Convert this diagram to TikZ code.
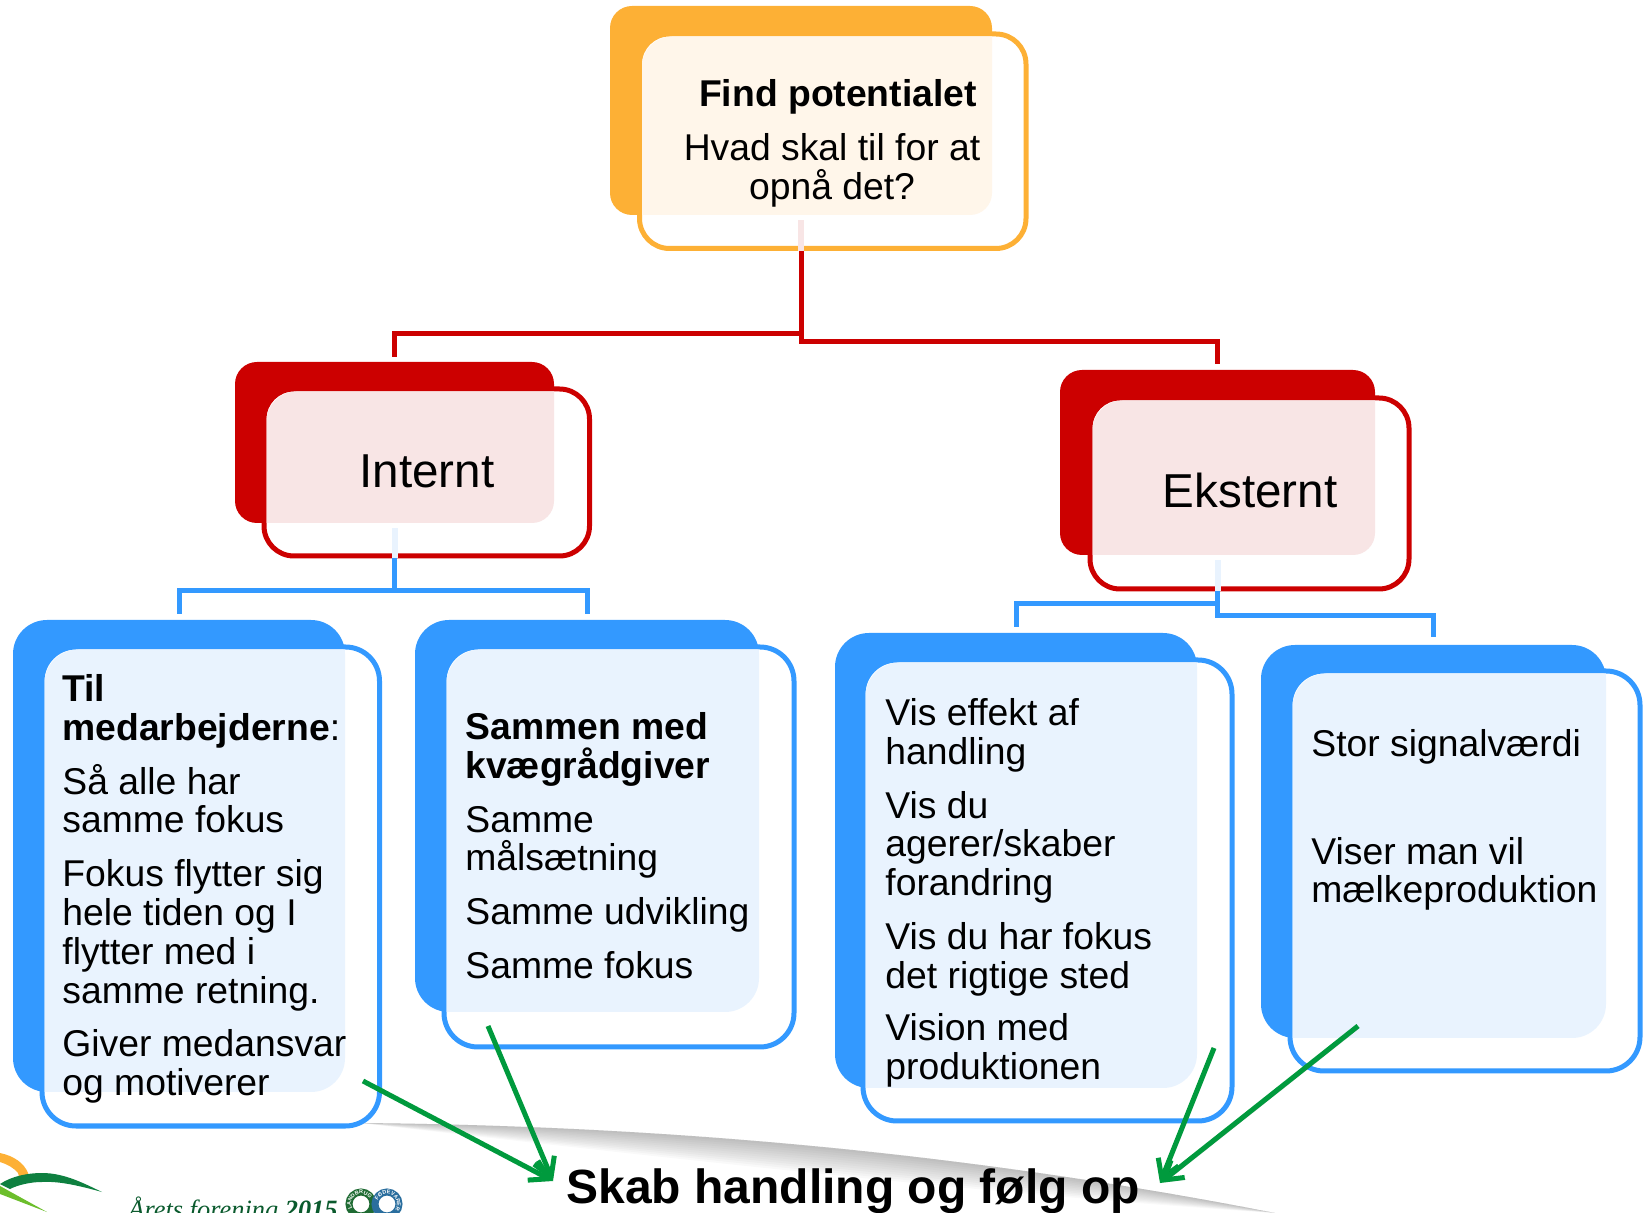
\documentclass[tikz,border=0pt]{standalone}
\usepackage{fontspec}
\setmainfont{Liberation Sans}
\newfontfamily\logofont{Liberation Serif}
\usetikzlibrary{arrows.meta,calc,decorations.text}
\definecolor{cOrange}{HTML}{FDB035}
\definecolor{cRed}{HTML}{CC0000}
\definecolor{cBlue}{HTML}{3399FF}
\definecolor{cCream}{HTML}{FFF6EA}
\definecolor{cPink}{HTML}{F8E5E5}
\definecolor{cIce}{HTML}{E9F3FE}
\definecolor{cGreen}{HTML}{009A3D}
\definecolor{cLogoG}{HTML}{0E8040}
\definecolor{cLogoL}{HTML}{6CBE2C}
\definecolor{cRingG}{HTML}{1F6B33}
\definecolor{cLogoB}{HTML}{2A6E9E}
\tikzset{
  cardback/.style={inner sep=0pt},
  cardfront/.style={inner sep=0pt,line width=2.5pt,fill=white},
  txt/.style={inner sep=0pt,align=left,anchor=north west,font=\fontsize{18.65}{19.4}\selectfont},
  ctxt/.style={inner sep=0pt,align=center,font=\fontsize{18.65}{19.4}\selectfont},
  big/.style={inner sep=0pt,font=\fontsize{23.8}{28}\selectfont},
  redline/.style={cRed,line width=2.5pt,line join=miter},
  blueline/.style={cBlue,line width=2.5pt,line join=miter},
  stub/.style={line width=3pt},
  greenarrow/.style={cGreen,line width=2.5pt,-{Straight Barb[length=9pt,width=11pt,line width=2.5pt]},
    preaction={draw=black,opacity=.18,transform canvas={shift={(.7pt,-.9pt)}}}},
  ringtext/.style={decoration={text along path,text align=center,
    text={|\fontsize{2.7}{3}\selectfont\bfseries\color{white}|#1}},decorate},
}
\newcommand{\cardB}[7]{%
  \node[cardback,rounded corners=#7,fill=#2,minimum width={(#5-#3)*0.5pt},minimum height={(#6-#4)*0.5pt}] (#1) at ({(#3+#5)/2},{(#4+#6)/2}) {};
  \def\bxa{#3}\def\bya{#4}\def\bxb{#5}\def\byb{#6}\def\brr{#7}}
\newcommand{\cardF}[8]{%
  \node[cardfront,rounded corners=#8,draw=#2,minimum width={(#6-#4)*0.5pt},minimum height={(#7-#5)*0.5pt}] (#1) at ({(#4+#6)/2},{(#5+#7)/2}) {};
  \begin{scope}
    \clip[rounded corners=\brr] (\bxa,\bya) rectangle (\bxb,\byb);
    \fill[#3,rounded corners=#8] (#4+2.5,#5+2.5) rectangle (#6-2.5,#7-2.5);
  \end{scope}}
\begin{document}
\begin{tikzpicture}[x=0.5pt,y=-0.5pt]
\useasboundingbox (0,0) rectangle (1646,1213);
% swoosh shadow
\foreach \d in {3,6,...,36}{
  \fill[black,opacity=.025] (360,1123) .. controls (700,1126) and (1000,1159) .. (1275,1213)
     -- (1275,1213) .. controls (1000,{1159+\d}) and (700,{1126+\d}) .. (360,1123) -- cycle;
}
% logo
\fill[cOrange] (0,1153) .. controls (14,1156) and (24,1163) .. (28,1173) -- (30,1180) -- (20,1180) -- (18,1173) .. controls (14,1168) and (7,1164) .. (0,1162) -- cycle;
\fill[cLogoG] (0,1184) .. controls (12,1176) and (28,1173) .. (42,1173) .. controls (65,1173) and (85,1184) .. (102,1192) .. controls (80,1186) and (60,1181) .. (42,1182) .. controls (30,1182) and (18,1185) .. (10,1189) -- cycle;
\fill[cLogoL] (0,1186) -- (47,1212) -- (0,1194) -- cycle;
\node[inner sep=0pt,anchor=base west,text=cLogoG!70!black,font=\logofont\itshape\fontsize{13.2}{15}\selectfont] (logotxt) at (128,1218) {Årets forening \textbf{2015}};
\draw[cRingG,line width=3.5pt] (361,1204) circle[radius=12];
\draw[cLogoB,line width=3.5pt] (387,1204) circle[radius=12];
\path[ringtext={LANDBRUG}] (361,1204) ++(150:10) arc[start angle=150,end angle=330,radius=10];
\path[ringtext={FØDEVARER}] (387,1204) ++(210:10) arc[start angle=210,end angle=390,radius=10];
% cards
\def\rO{11pt}\def\rF{15pt}\def\rB{17pt}
\cardB{topb}{cOrange}{610}{6}{992}{215}{\rO}
\cardF{topf}{cOrange}{cCream}{639.5}{34}{1026}{248.5}{\rF}
\cardB{intb}{cRed}{235}{362}{554}{523}{\rO}
\cardF{intf}{cRed}{cPink}{264}{389}{589.5}{556}{\rF}
\cardB{eksb}{cRed}{1060}{370}{1375}{555}{\rO}
\cardF{eksf}{cRed}{cPink}{1090}{398}{1409}{589}{\rF}
\cardB{lab}{cBlue}{13}{620}{345}{1092}{\rB}
\cardF{laf}{cBlue}{cIce}{42}{647}{379.5}{1126}{\rB}
\cardB{lbb}{cBlue}{415}{620}{759}{1012}{\rB}
\cardF{lbf}{cBlue}{cIce}{444}{647}{794}{1047}{\rB}
\cardB{rab}{cBlue}{835}{633}{1197}{1088}{\rB}
\cardF{raf}{cBlue}{cIce}{863}{660}{1232}{1121}{\rB}
\cardB{rbb}{cBlue}{1261}{645}{1606}{1038}{\rB}
\cardF{rbf}{cBlue}{cIce}{1290}{671}{1640}{1071}{\rB}
% levels
\coordinate (lvlL) at (0,333.5);
\coordinate (lvlR) at (0,341.5);
\coordinate (lvlI) at (0,591);
\coordinate (lvlEa) at (0,604);
\coordinate (lvlEb) at (0,616);
% pale stubs
\draw[cPink,stub] ($(topb.south)+(0,5)$) -- (topb.south |- topf.south);
\draw[cIce,stub] ($(intb.south)+(0,5)$) -- (intb.south |- intf.south);
\draw[cIce,stub] ($(eksb.south)+(0,5)$) -- (eksb.south |- eksf.south);
% connectors
\draw[redline,shorten >=2.5pt] (topb.south |- topf.south) -- (topb.south |- lvlL) -| (intb.north);
\draw[redline,shorten >=3pt] (topb.south |- topf.south) -- (topb.south |- lvlR) -| (eksb.north);
\draw[blueline,shorten >=3pt] (intb.south |- intf.south) -- (intb.south |- lvlI) -| (lab.north);
\draw[blueline,shorten >=3pt] (intb.south |- intf.south) -- (intb.south |- lvlI) -| (lbb.north);
\draw[blueline,shorten >=3pt] (eksb.south |- eksf.south) -- (eksb.south |- lvlEa) -| (rab.north);
\draw[blueline,shorten >=4pt] (eksb.south |- eksf.south) -- (eksb.south |- lvlEb) -| (rbb.north);
% texts
\node[ctxt,font=\bfseries\fontsize{18.65}{19.4}\selectfont] (t1) at (838,97) {Find potentialet};
\node[ctxt] (t2) at (832,170) {Hvad skal til for at\\opnå det?};
\node[big] (t3) at (427,471) {Internt};
\node[big] (t4) at (1250,490) {Eksternt};
\node[txt] (t5) at (62,674) {\textbf{Til}\\\textbf{medarbejderne}:\\[7.5pt]Så alle har\\samme fokus\\[7.5pt]Fokus flytter sig\\hele tiden og I\\flytter med i\\samme retning.\\[7.5pt]Giver medansvar\\og motiverer};
\node[txt] (t6) at (465,712) {\textbf{Sammen med}\\\textbf{kvægrådgiver}\\[7.5pt]Samme\\målsætning\\[7.5pt]Samme udvikling\\[7.5pt]Samme fokus};
\node[txt] (t7) at (885,698) {Vis effekt af\\handling\\[7.5pt]Vis du\\agerer/skaber\\forandring\\[7.4pt]Vis du har fokus\\det rigtige sted\\[7pt]Vision med\\produktionen};
\node[txt] (t8) at (1311,729) {Stor signalværdi\\[7.5pt]\\[7.5pt]Viser man vil\\mælkeproduktion};
\node[inner sep=0pt,font=\bfseries\fontsize{24}{28}\selectfont] (skab) at (853,1191) {Skab handling og følg op};
% green arrows
\coordinate (tipL) at (553,1181);
\coordinate (tipR) at (1160,1183);
\coordinate (s1) at (363,1081);
\coordinate (s2) at (488,1026);
\coordinate (s3) at (1214,1048);
\coordinate (s4) at (1358,1026);
\draw[greenarrow] (s1) -- (tipL);
\draw[greenarrow] (s2) -- (tipL);
\draw[greenarrow] (s3) -- (tipR);
\draw[greenarrow] (s4) -- (tipR);
\end{tikzpicture}
\end{document}
